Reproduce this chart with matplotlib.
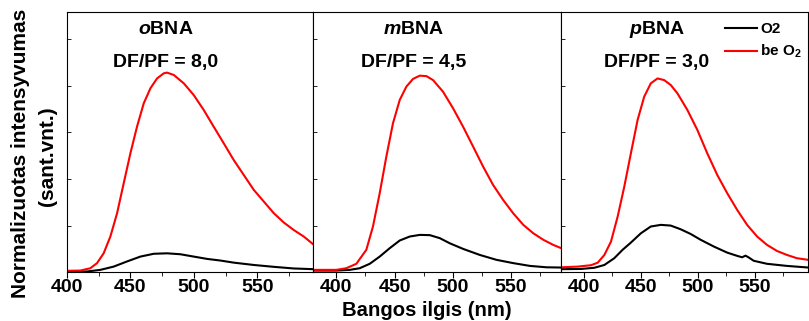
import matplotlib.pyplot as plt
import numpy as np

plt.rcParams['font.family'] = ['Liberation Sans', 'DejaVu Sans']
plt.rcParams['font.weight'] = 'bold'
plt.rcParams['mathtext.fontset'] = 'custom'
plt.rcParams['mathtext.rm'] = 'Liberation Sans:bold'
plt.rcParams['mathtext.it'] = 'Liberation Sans:italic:bold'

# oBNA
o_red_x = [400, 410.5, 418.4, 423.7, 428.9, 434.2, 439.5, 444.7, 450, 455.2, 460.5, 465.8, 471, 476.3,
           478.9, 484.2, 492.1, 499.9, 507.8, 515.7, 523.6, 531.5, 539.4, 547.3, 555.2, 563.1, 571,
           578.8, 586.7, 594.1]
o_red_y = [0.006, 0.007, 0.017, 0.039, 0.081, 0.153, 0.253, 0.381, 0.51, 0.624, 0.724, 0.789, 0.831, 0.853,
           0.856, 0.846, 0.81, 0.76, 0.696, 0.624, 0.553, 0.481, 0.417, 0.353, 0.303, 0.253, 0.213,
           0.181, 0.153, 0.12]
o_blk_x = [400, 415.8, 426.3, 436.8, 447.3, 457.9, 468.4, 478.9, 489.4, 499.9, 510.5, 521, 531.5, 547.3,
           563.1, 578.8, 594.1]
o_blk_y = [0.003, 0.003, 0.01, 0.024, 0.046, 0.067, 0.079, 0.081, 0.077, 0.067, 0.057, 0.05, 0.041, 0.031,
           0.023, 0.016, 0.013]

# mBNA
m_red_x = [379.9, 391.4, 400, 408.6, 417.2, 425.8, 431.5, 437.3, 443, 448.7, 454.5, 460.2, 465.9, 471.7,
           477.4, 483.1, 491.7, 500.3, 508.9, 517.5, 526.1, 534.7, 543.3, 551.9, 560.6, 569.2, 577.8,
           586.4, 593.2]
m_red_y = [0.01, 0.01, 0.01, 0.017, 0.036, 0.096, 0.196, 0.339, 0.496, 0.639, 0.739, 0.796, 0.829, 0.843,
           0.841, 0.824, 0.774, 0.703, 0.624, 0.539, 0.453, 0.374, 0.31, 0.253, 0.203, 0.167, 0.139,
           0.117, 0.103]
m_blk_x = [379.9, 400, 411.5, 420.1, 428.7, 437.3, 445.9, 454.5, 463.1, 471.7, 480.3, 488.9, 497.5, 508.9,
           523.3, 537.6, 551.9, 566.3, 580.6, 593.2]
m_blk_y = [0.007, 0.007, 0.01, 0.017, 0.036, 0.067, 0.103, 0.136, 0.153, 0.16, 0.159, 0.146, 0.124, 0.1,
           0.074, 0.053, 0.039, 0.027, 0.021, 0.02]

# pBNA
p_red_x = [380.2, 394.7, 406.4, 412.3, 418.1, 423.9, 429.8, 435.6, 441.4, 447.3, 453.1, 458.9, 464.8,
           470.6, 476.4, 482.3, 491, 499.8, 508.5, 517.3, 526, 534.8, 543.5, 552.3, 561, 569.8, 578.5,
           587.3, 597.2]
p_red_y = [0.021, 0.024, 0.03, 0.041, 0.074, 0.131, 0.239, 0.367, 0.51, 0.653, 0.753, 0.81, 0.831,
           0.824, 0.803, 0.767, 0.696, 0.61, 0.51, 0.417, 0.339, 0.267, 0.203, 0.153, 0.117, 0.091, 0.074,
           0.06, 0.053]
p_blk_x = [380.2, 397.7, 409.3, 418.1, 426.8, 434.1, 441.4, 450.2, 458.9, 467.7, 476.4, 485.2, 493.9,
           502.7, 514.3, 526, 534.8, 539.1, 542.1, 545, 549.3, 561, 578.5, 597.2]
p_blk_y = [0.013, 0.014, 0.019, 0.031, 0.06, 0.096, 0.127, 0.167, 0.196, 0.203, 0.2, 0.184, 0.164,
           0.139, 0.11, 0.084, 0.07, 0.064, 0.071, 0.063, 0.049, 0.036, 0.027, 0.02]

names = [r'$\mathit{o}$BNA', r'$\mathit{m}$BNA', r'$\mathit{p}$BNA']
ratios = ['DF/PF = 8,0', 'DF/PF = 4,5', 'DF/PF = 3,0']
xlims = [(400, 594), (380, 593), (380, 597)]
panels = [(o_blk_x, o_blk_y, o_red_x, o_red_y),
          (m_blk_x, m_blk_y, m_red_x, m_red_y),
          (p_blk_x, p_blk_y, p_red_x, p_red_y)]
edges = [67, 313, 561, 808]
text_x = [166, 414, 657]

W, H = 809, 321
fig = plt.figure(figsize=(W / 100, H / 100), dpi=100)

for i in range(3):
    l, r = edges[i], edges[i + 1]
    ax = fig.add_axes([l / W, (H - 271.5) / H, (r - l) / W, (271.5 - 12) / H])
    bx, by, rx, ry = panels[i]
    ax.plot(bx, by, color='black', lw=1.5, label='O2')
    ax.plot(rx, ry, color='red', lw=1.5, label='be O$_2$')
    ax.set_xlim(*xlims[i])
    ax.set_ylim(0.003, 1.116)
    ax.set_xticks([400, 450, 500, 550])
    ax.set_xticks([425, 475, 525, 575], minor=True)
    ax.set_yticks([0.2, 0.4, 0.6, 0.8, 1.0])
    ax.set_yticklabels([])
    ax.tick_params(axis='x', direction='out', length=4, width=0.8, labelsize=14, pad=1.5)
    ax.tick_params(axis='x', which='minor', direction='out', length=3, width=0.6)
    ax.tick_params(axis='y', direction='in', length=3, width=0.6)
    for s in ax.spines.values():
        s.set_linewidth(0.8)
    cx = (text_x[i] - l) / (r - l)
    ax.text(cx, (271.5 - 30) / 259.5, names[i], transform=ax.transAxes,
            ha='center', va='center', fontsize=14, fontweight='bold')
    ax.text(cx, (271.5 - 62) / 259.5, ratios[i], transform=ax.transAxes,
            ha='center', va='center', fontsize=14, fontweight='bold')
    if i == 2:
        ax.legend(loc='upper right', frameon=False, fontsize=11, handlelength=2.1,
                  borderaxespad=0.0, labelspacing=0.45, handletextpad=0.2,
                  bbox_to_anchor=(1.0, 0.985))

fig.text(427 / W, 1 - 310 / H, 'Bangos ilgis (nm)', ha='center', va='center',
         fontsize=14.6, fontweight='bold')
fig.text(21 / W, 1 - 153 / H, 'Normalizuotas intensyvumas', ha='center', va='center',
         rotation=90, fontsize=15, fontweight='bold')
fig.text(48 / W, 1 - 156 / H, '(sant.vnt.)', ha='center', va='center',
         rotation=90, fontsize=15, fontweight='bold')

fig.savefig('out.png', dpi=100)
